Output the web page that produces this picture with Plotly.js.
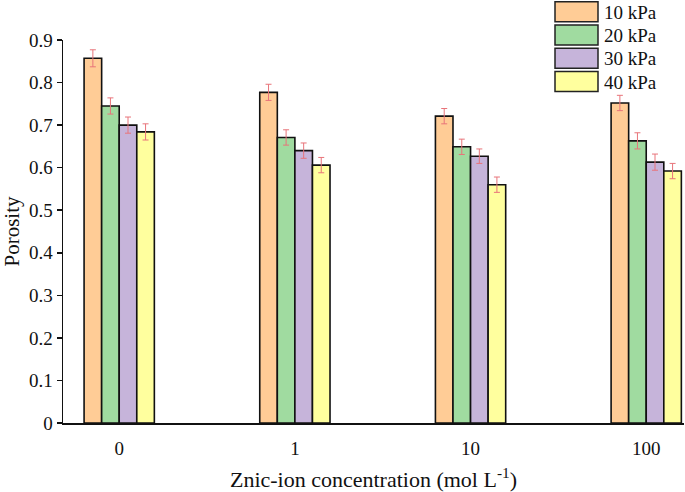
<!DOCTYPE html>
<html><head><meta charset="utf-8">
<script src="https://cdn.plot.ly/plotly-3.0.1.min.js"></script>
<style>html,body{margin:0;padding:0;background:#fff}</style>
</head><body><div id="chart" style="width:685px;height:492px"></div>
<script>
const categories = ['0', '1', '10', '100'];
const seriesNames = ['10 kPa', '20 kPa', '30 kPa', '40 kPa'];
const p10 = [0.857, 0.777, 0.721, 0.752];
const p20 = [0.745, 0.671, 0.649, 0.663];
const p30 = [0.700, 0.640, 0.627, 0.613];
const p40 = [0.684, 0.606, 0.560, 0.592];
const e10 = [0.020, 0.019, 0.018, 0.018];
const e20 = [0.019, 0.018, 0.018, 0.019];
const e30 = [0.019, 0.018, 0.017, 0.019];
const e40 = [0.019, 0.018, 0.018, 0.018];
const yTicks = [0, 0.1, 0.2, 0.3, 0.4, 0.5, 0.6, 0.7, 0.8, 0.9];

const colors = ['#FFCC96', '#A0DBA0', '#C6B4DA', '#FFFF9E'];
const values = [p10, p20, p30, p40];
const errs = [e10, e20, e30, e40];

const W = 685, H = 492, ml = 63, mr = 1, mt = 40, mb = 69;
const pw = W - ml - mr, ph = H - mt - mb;
const px = x => (x - ml) / pw;
const py = y => (H - mb - y) / ph;

const traces = seriesNames.map((n, i) => ({
  type: 'bar', name: n, x: categories, y: values[i],
  marker: {color: colors[i], line: {color: '#111', width: 1.6}},
  error_y: {type: 'data', array: errs[i], visible: true, color: '#E8747A', thickness: 1, width: 3},
  showlegend: false
}));

const shapes = [], annotations = [];
seriesNames.forEach((n, i) => {
  const top = 1.7 + i * 23.3;
  shapes.push({type: 'rect', xref: 'paper', yref: 'paper',
    x0: px(555), x1: px(598), y0: py(top + 20), y1: py(top),
    fillcolor: colors[i], line: {color: '#222', width: 1.5}});
  annotations.push({xref: 'paper', yref: 'paper', x: px(602), y: py(top + 10.5),
    xanchor: 'left', yanchor: 'middle', showarrow: false, text: n,
    font: {family: 'Liberation Serif', size: 19, color: '#111'}});
});

const layout = {
  width: W, height: H,
  margin: {l: ml, r: mr, t: mt, b: mb},
  paper_bgcolor: '#fff', plot_bgcolor: '#fff',
  barmode: 'group', bargap: 0.6, bargroupgap: 0,
  font: {family: 'Liberation Serif', color: '#111'},
  xaxis: {type: 'category', range: [-0.32, 3.215], showline: true, linecolor: '#111', linewidth: 1.5,
    ticks: '', showgrid: false, zeroline: false, ticklabelstandoff: 8,
    tickfont: {family: 'Liberation Serif', size: 19, color: '#111'},
    title: {text: 'Znic-ion concentration (mol L<sup>-1</sup>)', standoff: 15,
      font: {family: 'Liberation Serif', size: 22, color: '#111'}}},
  yaxis: {range: [0, 0.9], tickvals: yTicks, ticktext: yTicks.map(v => String(v)),
    showline: true, linecolor: '#111', linewidth: 1.5, ticks: 'outside', ticklen: 5, tickwidth: 1.5, tickcolor: '#111',
    showgrid: false, zeroline: false,
    tickfont: {family: 'Liberation Serif', size: 19, color: '#111'},
    title: {text: 'Porosity', standoff: 6, font: {family: 'Liberation Serif', size: 21, color: '#111'}}},
  shapes: shapes, annotations: annotations
};

Plotly.newPlot('chart', traces, layout, {displayModeBar: false, staticPlot: true});
</script></body></html>
